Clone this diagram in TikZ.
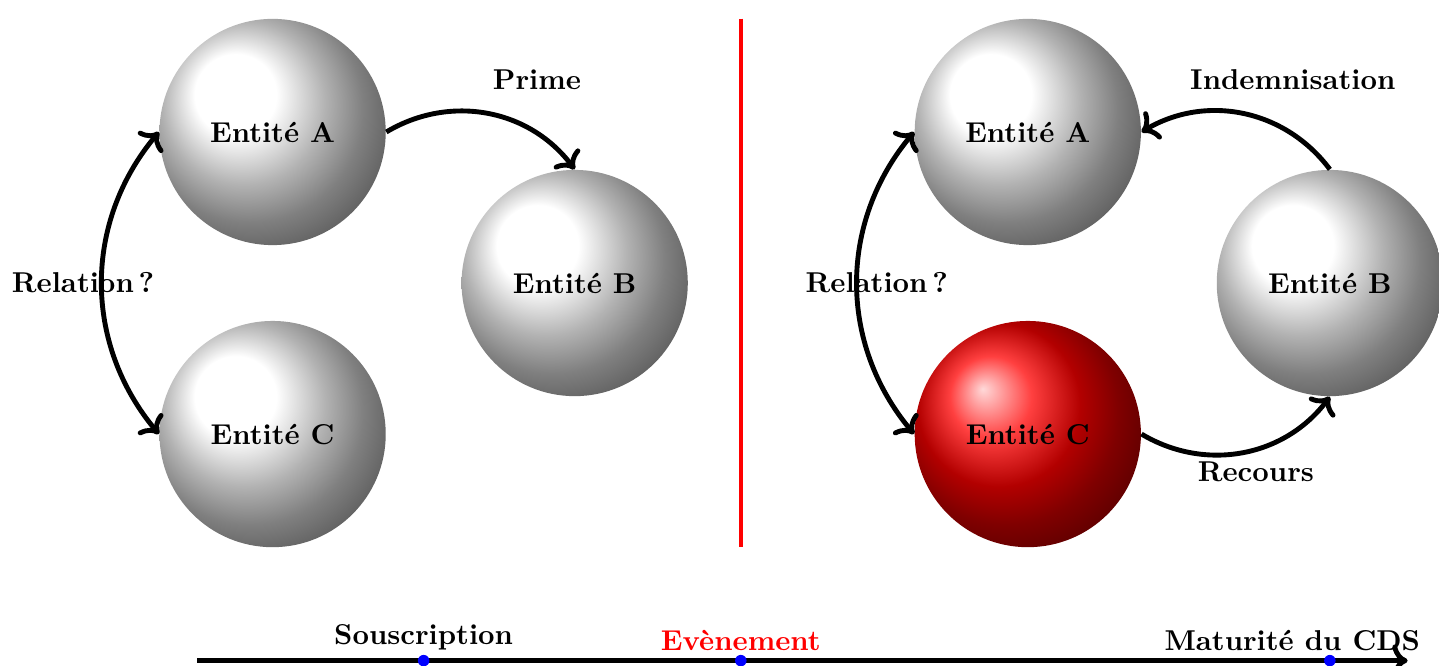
\documentclass[tikz,border=0pt]{standalone}
\usepackage{tikz}
\usetikzlibrary{arrows.meta}

\begin{document}
\begin{tikzpicture}[
		x=0.9246cm, y=0.9246cm,
		font=\bfseries,
		entite/.style={
			circle, ball color=white,
			minimum size=2.77cm, inner sep=0pt
		},
		defaut/.style={entite, ball color=red},
		arr/.style={->, line width=1.7pt, black},
		darr/.style={<->, line width=1.7pt, black},
		sep/.style={line width=1.3pt, red},
		axe/.style={->, line width=1.7pt, black},
		jalon/.style={circle, fill=blue, inner sep=0pt, minimum size=4pt}
		]
		\useasboundingbox (-9.81,-5.07) rectangle (9.245,3.748);
		
		\node[entite] (a1) at (-6.2, 2) {Entité A};
		\node[entite] (b1) at (-2.2, 0) {Entité B};
		\node[entite] (c1) at (-6.2,-2) {Entité C};
		\draw[arr] (a1.east) to[bend left=42] (b1.north);
		\node (prime) at (-2.7, 2.69) {Prime};
		\draw[darr] (a1.west) to[bend right=40] (c1.west);
		\node (rel1) at (-8.71, 0) {Relation\,?};
		
		\draw[sep] (0, 3.5) -- (0,-3.5);
		
		\node[entite] (a2) at (3.8, 2) {Entité A};
		\node[entite] (b2) at (7.8, 0) {Entité B};
		\node[defaut] (c2) at (3.8,-2) {Entité C};
		\draw[arr] (b2.north) to[bend right=42] (a2.east);
		\node (indem) at (7.31, 2.69) {Indemnisation};
		\draw[arr] (c2.east) to[bend right=42] (b2.south);
		\node (recours) at (6.82,-2.5) {Recours};
		\draw[darr] (a2.west) to[bend right=40] (c2.west);
		\node (rel2) at (1.8, 0) {Relation\,?};
		
		\coordinate (t0) at (-7.2,-5);
		\coordinate (t1) at (8.83,-5);
		\draw[axe] (t0) -- (t1);
		\node[jalon] (sous) at (-4.2,-5) {};
		\node[jalon] (evt) at (0,-5) {};
		\node[jalon] (mat) at (7.8,-5) {};
		\node[above=0pt] at (sous) {Souscription};
		\node[above=0pt, red] at (evt) {Evènement};
		\node[above=0pt, xshift=-0.46cm] at (mat) {Maturité du CDS};
\end{tikzpicture}
\end{document}
